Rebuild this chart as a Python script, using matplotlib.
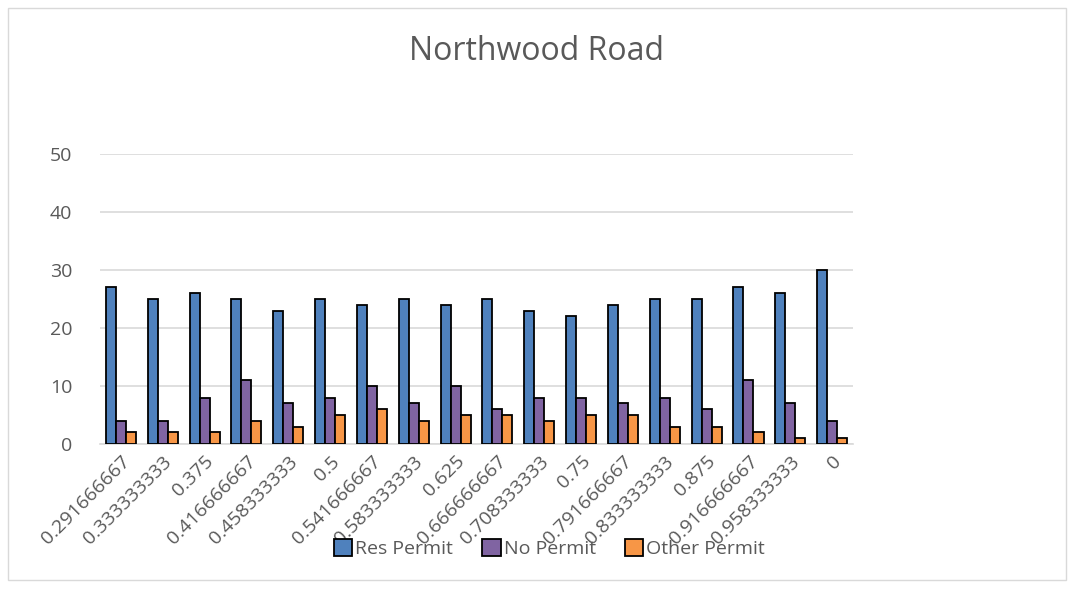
import numpy as np
import matplotlib.pyplot as plt
from matplotlib.patches import Rectangle

# datos
etiquetas = ["0.291666667", "0.333333333", "0.375", "0.416666667", "0.458333333",
             "0.5", "0.541666667", "0.583333333", "0.625", "0.666666667",
             "0.708333333", "0.75", "0.791666667", "0.833333333", "0.875",
             "0.916666667", "0.958333333", "0"]
res_permit = [27, 25, 26, 25, 23, 25, 24, 25, 24, 25, 23, 22, 24, 25, 25, 27, 26, 30]
no_permit = [4, 4, 8, 11, 7, 8, 10, 7, 10, 6, 8, 8, 7, 8, 6, 11, 7, 4]
other_permit = [2, 2, 2, 4, 3, 5, 6, 4, 5, 5, 4, 5, 5, 3, 3, 2, 1, 1]

plt.rcParams["font.family"] = ["Open Sans", "DejaVu Sans"]
gris = "#595959"

fig = plt.figure(figsize=(10.73, 5.89), dpi=100)
ax = fig.add_axes([0.0932, 0.2462, 0.7018, 0.4923])

x = np.arange(len(etiquetas))
w = 0.24
ax.bar(x - w, res_permit, w, color="#4F81BD", edgecolor="black", linewidth=1.3, label="Res Permit", zorder=3)
ax.bar(x, no_permit, w, color="#8064A2", edgecolor="black", linewidth=1.3, label="No Permit", zorder=3)
ax.bar(x + w, other_permit, w, color="#F79646", edgecolor="black", linewidth=1.3, label="Other Permit", zorder=3)

ax.set_xlim(-0.5, len(etiquetas) - 0.5)
ax.set_ylim(0, 50)
ax.set_yticks(range(0, 51, 10))
ax.yaxis.grid(True, color="#d9d9d9", linewidth=1.2, zorder=0)
for s in ["top", "right", "left"]:
    ax.spines[s].set_visible(False)
ax.spines["bottom"].set_color("#d9d9d9")
ax.spines["bottom"].set_linewidth(1.2)
ax.tick_params(axis="both", length=0, labelsize=14, colors=gris)
ax.tick_params(axis="y", pad=20)
ax.tick_params(axis="x", pad=6)
ax.set_xticks(x)
ax.set_xticklabels(etiquetas, rotation=45, ha="right", rotation_mode="anchor")

fig.text(0.5, 0.912, "Northwood Road", ha="center", va="center", fontsize=23, color=gris)

fig.legend(loc="center", bbox_to_anchor=(0.512, 0.068), ncol=3, frameon=False,
           fontsize=14, labelcolor=gris, handlelength=0.95, handleheight=0.95,
           handletextpad=0.15, columnspacing=1.5)

fig.patches.append(Rectangle((0.0075, 0.015), 0.9863, 0.972, transform=fig.transFigure,
                             fill=False, edgecolor="#d9d9d9", linewidth=1))

plt.savefig("out.png", dpi=100)
